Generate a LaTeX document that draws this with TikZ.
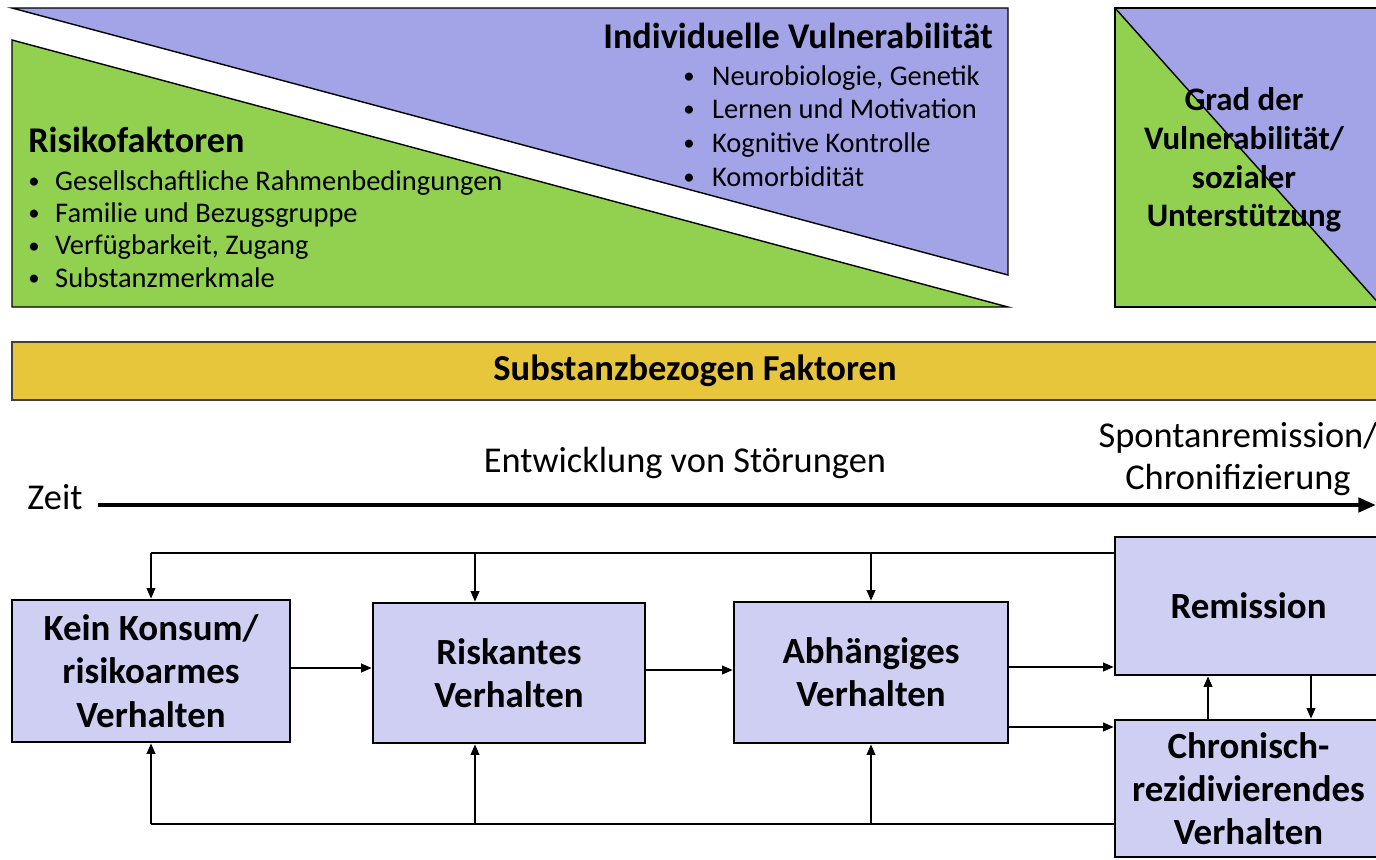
\documentclass[tikz,border=0pt]{standalone}
\usepackage{fontspec}
\setmainfont{Carlito}
\usetikzlibrary{arrows.meta}
\definecolor{vulnblue}{HTML}{A3A3E8}
\definecolor{riskgreen}{HTML}{92D050}
\definecolor{phasefill}{HTML}{CFCFF3}
\definecolor{substyellow}{HTML}{E8C63C}
\newcommand{\dotitem}[1]{\makebox[#1][l]{\raisebox{0.06em}{\scalebox{0.8}{•}}}}
\tikzset{
  phase/.style={draw,line width=1.6pt,fill=phasefill,align=center,inner sep=0pt,
    font=\fontsize{21}{24.6}\selectfont\bfseries},
  flow/.style={-{Triangle[length=6pt,width=5pt]},line width=0.8pt},
  headline/.style={anchor=base west,inner sep=0pt,font=\fontsize{20.6}{24}\selectfont\bfseries},
  listline/.style={anchor=base west,inner sep=0pt,font=\fontsize{16.2}{19}\selectfont},
  plain/.style={font=\fontsize{20.7}{24.4}\selectfont},
}
\begin{document}
\begin{tikzpicture}[x=0.02cm,y=-0.02cm]
\useasboundingbox (0,0) rectangle (1376,859);
% Risikofaktoren / Vulnerabilitaet
\draw[fill=vulnblue,line width=0.8pt] (12,8) -- (1008,8) -- (1008,275) -- cycle;
\draw[fill=riskgreen,line width=0.8pt] (12,40) -- (1008,307) -- (12,307) -- cycle;
\node[headline] (vuln) at (603,48) {Individuelle Vulnerabilität};
\foreach \t [count=\i] in {{Neurobiologie, Genetik},Lernen und Motivation,Kognitive Kontrolle,Komorbidität}
  \node[listline] at (683,{85+33.7*(\i-1)}) {\dotitem{16.4pt}\t};
\node[headline] (risk) at (28,152) {Risikofaktoren};
\foreach \t [count=\i] in {Gesellschaftliche Rahmenbedingungen,Familie und Bezugsgruppe,{Verfügbarkeit, Zugang},Substanzmerkmale}
  \node[listline] at (28,{190+32.4*(\i-1)}) {\dotitem{15.3pt}\t};
% Grad
\fill[riskgreen] (1115,8) -- (1115,307) -- (1382,307) -- cycle;
\fill[vulnblue] (1115,8) -- (1382,8) -- (1382,307) -- cycle;
\draw[line width=0.8pt] (1382,307) -- (1115,307) -- (1115,8) -- (1382,8);
\draw[line width=0.8pt] (1115,8) -- (1382,307);
\node[align=center,font=\fontsize{18.7}{22}\selectfont\bfseries] (grad) at (1244,160)
  {Grad der\\Vulnerabilität/\\sozialer\\Unterstützung};
% Substanz
\node[draw=black!75,line width=0.8pt,fill=substyellow,minimum width=27.32cm,minimum height=1.16cm,
  font=\fontsize{20.8}{24}\selectfont\bfseries] (subst) at (695,371) {Substanzbezogen Faktoren};
% Zeitachse
\node[plain] (zeit) at (55,497) {Zeit};
\coordinate (tstart) at (98,505);
\coordinate (tend) at (1376,505);
\draw[line width=2.3pt,-{Triangle[length=10pt,width=8pt]}] (tstart) -- (tend);
\node[plain] (entw) at (685,463) {Entwicklung von Störungen};
\node[plain,align=center] (spont) at (1238,459) {Spontanremission/\\Chronifizierung};
% Phasen
\node[phase,minimum width=5.56cm,minimum height=2.84cm] (kein) at (151,671) {Kein Konsum/\\risikoarmes\\Verhalten};
\node[phase,minimum width=5.44cm,minimum height=2.80cm] (riskant) at (509,673) {Riskantes\\Verhalten};
\node[phase,minimum width=5.48cm,minimum height=2.82cm] (abh) at (871,672.5) {Abhängiges\\Verhalten};
\node[phase,minimum width=5.34cm,minimum height=2.76cm] (rem) at (1248.5,606) {Remission};
\node[phase,minimum width=5.34cm,minimum height=2.74cm] (chron) at (1248.5,788.5) {Chronisch-\\rezidivierendes\\Verhalten};
% Rueckfuehrung oben
\coordinate (fbtop) at (151,553);
\coordinate (fbtopr) at (475,553);
\coordinate (fbtopa) at (871,553);
\draw[line width=0.8pt] (fbtop) -- (fbtop -| rem.west);
\draw[flow] (fbtop) -- (kein.north);
\draw[flow] (fbtopr) -- (fbtopr |- riskant.north);
\draw[flow] (fbtopa) -- (abh.north);
% Rueckfuehrung unten
\coordinate (fbbot) at (151,824);
\coordinate (fbbotr) at (475,824);
\coordinate (fbbota) at (871,824);
\draw[line width=0.8pt] (fbbot) -- (fbbot -| chron.west);
\draw[flow] (fbbot) -- (kein.south);
\draw[flow] (fbbotr) -- (fbbotr |- riskant.south);
\draw[flow] (fbbota) -- (abh.south);
% Uebergaenge
\draw[flow] (kein.east |- 0,668) -- (riskant.west |- 0,668);
\draw[flow] (riskant.east |- 0,670) -- (abh.west |- 0,670);
\draw[flow] (abh.east |- 0,667) -- (rem.west |- 0,667);
\draw[flow] (abh.east |- 0,727) -- (chron.west |- 0,727);
\draw[flow] (chron.north -| 1208,0) -- (rem.south -| 1208,0);
\draw[flow] (rem.south -| 1311,0) -- (chron.north -| 1311,0);
\end{tikzpicture}
\end{document}
